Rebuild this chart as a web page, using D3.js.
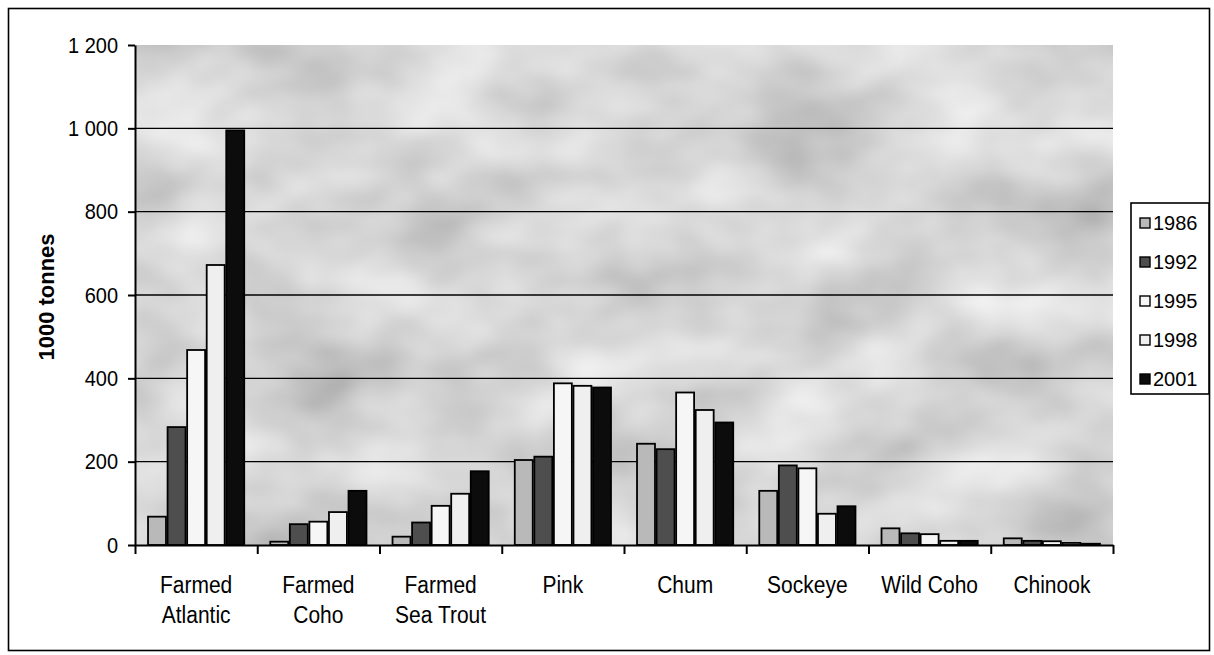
<!DOCTYPE html>
<html>
<head>
<meta charset="utf-8">
<script src="https://cdn.jsdelivr.net/npm/d3@7/dist/d3.min.js"></script>
<style>
  html, body { margin: 0; padding: 0; background: #fff; }
  svg { display: block; }
  text { font-family: "Liberation Sans", Arial, sans-serif; fill: #000; }
</style>
</head>
<body>
<svg id="chart" width="1214" height="655"></svg>
<script>
// Salmon production by species, thousand tonnes
const categories = [
  ["Farmed", "Atlantic"],
  ["Farmed", "Coho"],
  ["Farmed", "Sea Trout"],
  ["Pink"],
  ["Chum"],
  ["Sockeye"],
  ["Wild Coho"],
  ["Chinook"]
];
const years = ["1986", "1992", "1995", "1998", "2001"];
const values1986 = [68, 8, 20, 204, 243, 130, 40, 16];
const values1992 = [283, 50, 54, 212, 230, 191, 28, 10];
const values1995 = [468, 56, 94, 388, 366, 184, 26, 9];
const values1998 = [672, 79, 123, 382, 324, 75, 10, 5];
const values2001 = [995, 130, 177, 378, 294, 93, 10, 3];
const yTicks = [0, 200, 400, 600, 800, 1000, 1200];
const yTitle = "1000 tonnes";

const seriesValues = [values1986, values1992, values1995, values1998, values2001];
const seriesFill = ["#b9b9b9", "#4e4e4e", "#f6f6f6", "#efefef", "#0c0c0c"];

const svg = d3.select("#chart");
const plot = { left: 135, right: 1113, top: 45, bottom: 545 };

// Mottled grey fill for the plot area
const defs = svg.append("defs");
const f = defs.append("filter").attr("id", "mottle")
  .attr("x", 0).attr("y", 0).attr("width", 1).attr("height", 1)
  .attr("filterUnits", "objectBoundingBox");
f.append("feTurbulence").attr("type", "fractalNoise")
  .attr("baseFrequency", "0.008 0.012").attr("numOctaves", 3).attr("seed", 11);
f.append("feColorMatrix").attr("type", "matrix")
  .attr("values", "0.55 0 0 0 0.4  0.55 0 0 0 0.4  0.55 0 0 0 0.4  0 0 0 0 1");

// Outer frame
svg.append("rect")
  .attr("x", 8.5).attr("y", 8.5).attr("width", 1201).attr("height", 642)
  .attr("fill", "#fff").attr("stroke", "#000").attr("stroke-width", 1.6);

svg.append("rect")
  .attr("x", plot.left).attr("y", plot.top)
  .attr("width", plot.right - plot.left).attr("height", plot.bottom - plot.top)
  .attr("fill", "#adadad").attr("filter", "url(#mottle)");

const catIdx = d3.range(categories.length);
const x0 = d3.scaleBand().domain(catIdx).range([plot.left, plot.right])
  .paddingInner(0.2).paddingOuter(0.1);
const x1 = d3.scaleBand().domain(d3.range(years.length)).range([0, x0.bandwidth()]);
const xEdge = d3.scaleLinear().domain([0, categories.length]).range([plot.left, plot.right]);
const y = d3.scaleLinear().domain([0, 1200]).range([plot.bottom, plot.top]);

// Horizontal gridlines
svg.append("g").selectAll("line")
  .data(yTicks.filter(v => v > 0 && v < 1200))
  .join("line")
  .attr("x1", plot.left).attr("x2", plot.right)
  .attr("y1", d => y(d)).attr("y2", d => y(d))
  .attr("stroke", "#000").attr("stroke-width", 1.4);

// Bars
const groups = svg.append("g").selectAll("g")
  .data(catIdx).join("g")
  .attr("transform", i => `translate(${x0(i)},0)`);
groups.selectAll("rect")
  .data(i => seriesValues.map((s, k) => ({ k, v: s[i] })))
  .join("rect")
  .attr("x", d => x1(d.k) + 0.8)
  .attr("width", x1.bandwidth() - 1.6)
  .attr("y", d => y(d.v))
  .attr("height", d => y(0) - y(d.v))
  .attr("fill", d => seriesFill[d.k])
  .attr("stroke", "#000").attr("stroke-width", 1.8);

// Y axis
const fmt = d3.formatLocale({ decimal: ".", thousands: " ", grouping: [3], currency: ["", ""] }).format(",");
const yAxis = svg.append("g")
  .attr("transform", `translate(${plot.left},0)`)
  .call(d3.axisLeft(y).tickValues(yTicks).tickFormat(fmt).tickSizeInner(7).tickSizeOuter(0).tickPadding(10));
yAxis.select(".domain").attr("stroke", "#000").attr("stroke-width", 2);
yAxis.selectAll(".tick line").attr("stroke", "#000").attr("stroke-width", 2);
yAxis.selectAll(".tick text")
  .attr("font-size", 20).attr("font-family", "Liberation Sans, Arial, sans-serif")
  .attr("transform", "scale(1,1.12)");

// X axis: ticks sit between categories
const xAxis = svg.append("g")
  .attr("transform", `translate(0,${plot.bottom})`)
  .call(d3.axisBottom(xEdge).ticks(categories.length).tickFormat("").tickSizeInner(9).tickSizeOuter(0));
xAxis.select(".domain").attr("stroke", "#000").attr("stroke-width", 2);
xAxis.selectAll(".tick line").attr("stroke", "#000").attr("stroke-width", 2);

// Category labels
const labels = svg.append("g").selectAll("text")
  .data(catIdx).join("text")
  .attr("transform", i => `translate(${x0(i) + x0.bandwidth() / 2},585) scale(1,1.12)`)
  .attr("text-anchor", "middle").attr("font-size", 21);
labels.selectAll("tspan")
  .data(i => categories[i])
  .join("tspan")
  .attr("x", 0)
  .attr("y", (d, j) => j * 27)
  .attr("dy", "0.35em")
  .text(d => d);

// Y axis title
svg.append("text")
  .attr("transform", "translate(46,297) rotate(-90)")
  .attr("text-anchor", "middle").attr("dy", "0.35em")
  .attr("font-size", 22).attr("font-weight", "bold")
  .text(yTitle);

// Legend
const legend = svg.append("g");
legend.append("rect")
  .attr("x", 1131).attr("y", 203).attr("width", 78).attr("height", 191)
  .attr("fill", "#fff").attr("stroke", "#000").attr("stroke-width", 1.6);
const items = legend.selectAll("g.item")
  .data(years).join("g").attr("class", "item")
  .attr("transform", (d, i) => `translate(1140,${223 + i * 39})`);
items.append("rect")
  .attr("x", 0).attr("y", -5).attr("width", 10).attr("height", 10)
  .attr("fill", (d, i) => seriesFill[i]).attr("stroke", "#000").attr("stroke-width", 1.4);
items.append("text")
  .attr("x", 13).attr("dy", "0.36em")
  .attr("font-size", 20)
  .text(d => d);
</script>
</body>
</html>
